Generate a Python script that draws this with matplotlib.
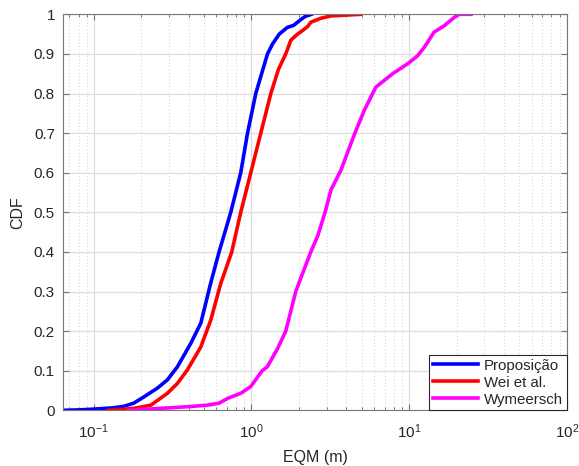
import matplotlib
matplotlib.use("Agg")
import matplotlib.pyplot as plt
from matplotlib.ticker import LogLocator, FixedLocator, NullFormatter

plt.rcParams['font.family'] = ['Liberation Sans', 'DejaVu Sans']
plt.rcParams['mathtext.fontset'] = 'custom'
plt.rcParams['mathtext.rm'] = 'Liberation Sans'
plt.rcParams['mathtext.it'] = 'Liberation Sans'
plt.rcParams['mathtext.default'] = 'regular'

# Empirical CDF samples (error in metres, cumulative probability)
prop_err = [0.064, 0.08, 0.10, 0.13, 0.155, 0.179, 0.208, 0.253, 0.293, 0.339, 0.412,
            0.477, 0.552, 0.623, 0.739, 0.855, 0.944, 1.065, 1.15, 1.264, 1.36,
            1.50, 1.69, 1.85, 2.06, 2.20, 2.40]
prop_cdf = [0.0, 0.001, 0.003, 0.006, 0.01, 0.018, 0.034, 0.056, 0.077, 0.11, 0.169,
            0.22, 0.322, 0.40, 0.50, 0.60, 0.70, 0.80, 0.845, 0.90, 0.925,
            0.95, 0.967, 0.972, 0.987, 0.995, 1.0]

wei_err = [0.123, 0.15, 0.18, 0.23, 0.293, 0.339, 0.392, 0.477, 0.552, 0.638, 0.75,
           0.855, 0.99, 1.146, 1.327, 1.48, 1.65, 1.78, 1.96, 2.06, 2.27, 2.38,
           2.75, 3.2, 4.0, 4.94]
wei_cdf = [0.0, 0.002, 0.005, 0.013, 0.043, 0.068, 0.102, 0.16, 0.228, 0.32, 0.40,
           0.50, 0.60, 0.70, 0.80, 0.86, 0.90, 0.935, 0.95, 0.956, 0.969, 0.98,
           0.99, 0.996, 0.998, 1.0]

wym_err = [0.167, 0.265, 0.392, 0.526, 0.623, 0.705, 0.855, 0.99, 1.117, 1.17, 1.26,
           1.46, 1.65, 1.91, 2.06, 2.38, 2.63, 2.93, 3.19, 3.69, 4.53, 5.19, 6.15,
           7.86, 9.78, 11.3, 12.5, 14.4, 16.7, 19.3, 20.8, 24.7]
wym_cdf = [0.0, 0.005, 0.009, 0.013, 0.018, 0.03, 0.043, 0.06, 0.089, 0.10, 0.11,
           0.155, 0.20, 0.30, 0.335, 0.40, 0.44, 0.50, 0.556, 0.606, 0.70, 0.757,
           0.816, 0.85, 0.875, 0.895, 0.917, 0.955, 0.971, 0.992, 1.0, 1.0]

series = [
    ("Proposição", prop_err, prop_cdf, "#0000ff"),
    ("Wei et al.", wei_err, wei_cdf, "#ff0000"),
    ("Wymeersch", wym_err, wym_cdf, "#ff00ff"),
]

y_ticks = [i / 10 for i in range(11)]
y_tick_labels = ['0', '0.1', '0.2', '0.3', '0.4', '0.5', '0.6', '0.7', '0.8', '0.9', '1']

fig = plt.figure(figsize=(5.79, 4.66), dpi=100)
ax = fig.add_axes([0.1093, 0.1195, 0.8695, 0.8498])

for name, x, y, c in series:
    ax.plot(x, y, color=c, lw=2.6, label=name, solid_joinstyle='round')

ax.set_xscale('log')
ax.set_xlim(0.064, 100)
ax.set_ylim(0, 1)
ax.yaxis.set_major_locator(FixedLocator(y_ticks))
ax.set_yticklabels(y_tick_labels)
ax.xaxis.set_major_locator(LogLocator(base=10, numticks=10))
ax.xaxis.set_minor_locator(LogLocator(base=10, subs=range(2, 10), numticks=20))
ax.xaxis.set_minor_formatter(NullFormatter())

ax.grid(True, which='major', color='#dedede', lw=0.9, ls='-')
ax.grid(True, which='minor', axis='x', color='#d8d8d8', lw=0.8, ls=(0, (1, 2)))
ax.set_axisbelow(True)

ax.tick_params(which='both', direction='in', top=True, right=True,
               colors='#777777', labelcolor='#262626', labelsize=11)
ax.tick_params(axis='x', which='major', pad=9)
ax.tick_params(axis='y', which='major', pad=6)
ax.tick_params(which='major', length=4, width=0.8)
ax.tick_params(which='minor', length=2.5, width=0.7)
for s in ax.spines.values():
    s.set_color('#777777')
    s.set_linewidth(0.8)

ax.set_xlabel('EQM (m)', fontsize=11.5, color='#262626', labelpad=6)
ax.set_ylabel('CDF', fontsize=11.5, color='#262626', labelpad=6)

leg = ax.legend(loc='lower right', fontsize=10.8, frameon=True, fancybox=False,
                borderpad=0.25, handlelength=3.0, handletextpad=0.4,
                labelspacing=0.2, borderaxespad=0.0)
leg.get_frame().set_edgecolor('#262626')
leg.get_frame().set_linewidth(0.8)
leg.get_frame().set_alpha(1)
for t in leg.get_texts():
    t.set_color('#262626')

fig.savefig('out.png', dpi=100)
